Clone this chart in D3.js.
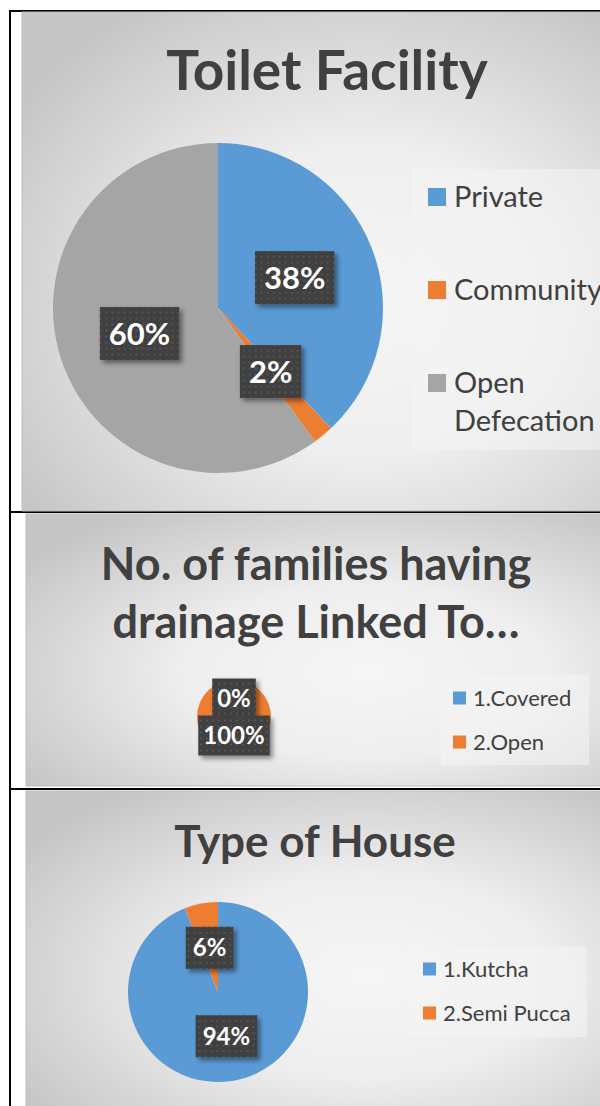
<!DOCTYPE html>
<html>
<head>
<meta charset="utf-8">
<script src="https://cdn.jsdelivr.net/npm/d3@7"></script>
<style>
  body { margin: 0; background: #ffffff; }
  svg { display: block; }
</style>
</head>
<body>
<div id="Main_Part"></div>
<script>
// chart data
var toiletCategories = ["Private", "Community", "Open Defecation"];
var toiletValues = [38, 2, 60];
var drainageCategories = ["1.Covered", "2.Open"];
var drainageValues = [0, 100];
var houseCategories = ["1.Kutcha", "2.Semi Pucca"];
var houseValues = [94, 6];
var sliceColors = ["#5b9bd5", "#ed7d31", "#a5a5a5"];

var FontFamily = "Lato, 'Noto Sans', 'DejaVu Sans', sans-serif";
var TextColor = "#404040";

var svg = d3.select('#Main_Part')
  .append("svg")
  .attr("width", 600)
  .attr("height", 1106);

var defs = svg.append("defs");

var bgGrad = defs.append("radialGradient")
  .attr("id", "PanelGrad")
  .attr("cx", "58%").attr("cy", "58%").attr("r", "70%");
bgGrad.append("stop").attr("offset", "0%").attr("stop-color", "#f6f6f6");
bgGrad.append("stop").attr("offset", "45%").attr("stop-color", "#eeeeee");
bgGrad.append("stop").attr("offset", "100%").attr("stop-color", "#c6c6c6");

var dots = defs.append("pattern")
  .attr("id", "DotPattern")
  .attr("width", 6).attr("height", 6)
  .attr("patternUnits", "userSpaceOnUse");
dots.append("rect").attr("width", 6).attr("height", 6).attr("fill", "#3f3f3f");
dots.append("rect").attr("x", 2).attr("y", 2).attr("width", 2).attr("height", 2).attr("fill", "#545454");

var shadow = defs.append("filter")
  .attr("id", "LabelShadow")
  .attr("x", "-20%").attr("y", "-20%").attr("width", "150%").attr("height", "150%");
shadow.append("feDropShadow")
  .attr("dx", 3).attr("dy", 3).attr("stdDeviation", 2.5)
  .attr("flood-color", "#000").attr("flood-opacity", 0.45);

// table border lines
svg.append("rect").attr("x", 9).attr("y", 10).attr("width", 2).attr("height", 1096).attr("fill", "#000");
svg.append("rect").attr("x", 9).attr("y", 10).attr("width", 591).attr("height", 2).attr("fill", "#000");
svg.append("rect").attr("x", 9).attr("y", 511).attr("width", 591).attr("height", 2).attr("fill", "#000");
svg.append("rect").attr("x", 9).attr("y", 788).attr("width", 591).attr("height", 2).attr("fill", "#000");

function Panel(x, y, w, h)
{
  svg.append("rect")
    .attr("x", x).attr("y", y)
    .attr("width", w).attr("height", h)
    .attr("fill", "url(#PanelGrad)")
    .attr("stroke", "#bdbdbd")
    .attr("stroke-width", 1);
}

function PieChart(opt)
{
  var pie = d3.pie().sort(null).value(function(d){ return d; });
  var arcs = pie(opt.values);
  var arc = d3.arc().innerRadius(0).outerRadius(opt.radius);

  var g = svg.append("g")
    .attr("transform", "translate(" + opt.cx + "," + opt.cy + ")");

  g.selectAll("path")
    .data(arcs)
    .enter()
    .append("path")
    .attr("d", arc)
    .attr("fill", function(d, i){ return sliceColors[i]; });

  var total = d3.sum(opt.values);
  var labels = g.selectAll("g.lbl")
    .data(arcs)
    .enter()
    .append("g")
    .attr("class", "lbl")
    .attr("transform", function(d){ return "translate(" + arc.centroid(d) + ")"; });

  labels.each(function(d){
    var lg = d3.select(this);
    var box = lg.append("rect").attr("fill", "url(#DotPattern)").attr("filter", "url(#LabelShadow)");
    var t = lg.append("text")
      .attr("text-anchor", "middle")
      .attr("dy", "0.36em")
      .style("font-family", FontFamily)
      .style("font-weight", "bold")
      .style("font-size", opt.labelSize + "px")
      .style("fill", "#ffffff")
      .text(Math.round(d.value / total * 100) + "%");
    var w = t.node().getComputedTextLength() + opt.labelPadX * 2;
    box.attr("x", -w / 2).attr("y", -opt.labelHeight / 2)
      .attr("width", w).attr("height", opt.labelHeight);
  });
}

function Legend(opt)
{
  svg.append("rect")
    .attr("x", opt.x).attr("y", opt.y)
    .attr("width", opt.w).attr("height", opt.h)
    .attr("fill", "#f4f4f4")
    .attr("fill-opacity", 0.55);

  var items = svg.selectAll(null)
    .data(opt.categories)
    .enter()
    .append("g")
    .attr("transform", function(d, i){
      return "translate(" + (opt.x + opt.padX) + "," + (opt.firstY + i * opt.step) + ")";
    });

  items.append("rect")
    .attr("x", 0)
    .attr("y", -opt.swatch / 2)
    .attr("width", opt.swatch).attr("height", opt.swatch)
    .attr("fill", function(d, i){ return sliceColors[i]; });

  items.append("text")
    .attr("x", opt.swatch + opt.gap)
    .style("font-family", FontFamily)
    .style("font-size", opt.fontSize + "px")
    .style("fill", TextColor)
    .each(function(d){
      var parts = opt.wrap && d.indexOf(" ") > 0 ? d.split(" ") : [d];
      var t = d3.select(this);
      t.selectAll("tspan")
        .data(parts)
        .enter()
        .append("tspan")
        .attr("x", opt.swatch + opt.gap)
        .attr("y", function(p, j){ return j * opt.lineHeight; })
        .attr("dy", "0.36em")
        .text(function(p){ return p; });
    });
}

function Title(lines, cx, firstY, size, lineHeight)
{
  svg.selectAll(null)
    .data(lines)
    .enter()
    .append("text")
    .attr("x", cx)
    .attr("y", function(d, i){ return firstY + i * lineHeight; })
    .attr("text-anchor", "middle")
    .style("font-family", FontFamily)
    .style("font-weight", "bold")
    .style("font-size", size + "px")
    .style("fill", TextColor)
    .text(function(d){ return d; });
}

// ---- Toilet Facility ----
Panel(22, 12, 590, 499);
Title(["Toilet Facility"], 327, 90, 55, 0);
PieChart({ values: toiletValues, cx: 218, cy: 308, radius: 165, labelSize: 31, labelPadX: 9, labelHeight: 53 });
Legend({ categories: toiletCategories, x: 413, y: 169, w: 200, h: 281, padX: 15, firstY: 197, step: 93,
  swatch: 18, gap: 8, fontSize: 29, lineHeight: 38, wrap: true });

// ---- Drainage ----
Panel(26, 514, 586, 272);
Title(["No. of families having", "drainage Linked To\u2026"], 316, 580, 45, 58);
PieChart({ values: drainageValues, cx: 234, cy: 717, radius: 37, labelSize: 24, labelPadX: 5, labelHeight: 40 });
Legend({ categories: drainageCategories, x: 441, y: 675, w: 148, h: 90, padX: 12, firstY: 698, step: 44,
  swatch: 13, gap: 7, fontSize: 22, lineHeight: 24, wrap: false });

// ---- Type of House ----
Panel(26, 791, 586, 320);
Title(["Type of House"], 315, 857, 44, 0);
PieChart({ values: houseValues, cx: 218, cy: 992, radius: 90, labelSize: 24, labelPadX: 7, labelHeight: 42 });
Legend({ categories: houseCategories, x: 410, y: 947, w: 177, h: 90, padX: 13, firstY: 969, step: 44,
  swatch: 13, gap: 7, fontSize: 22, lineHeight: 24, wrap: false });
</script>
</body>
</html>
